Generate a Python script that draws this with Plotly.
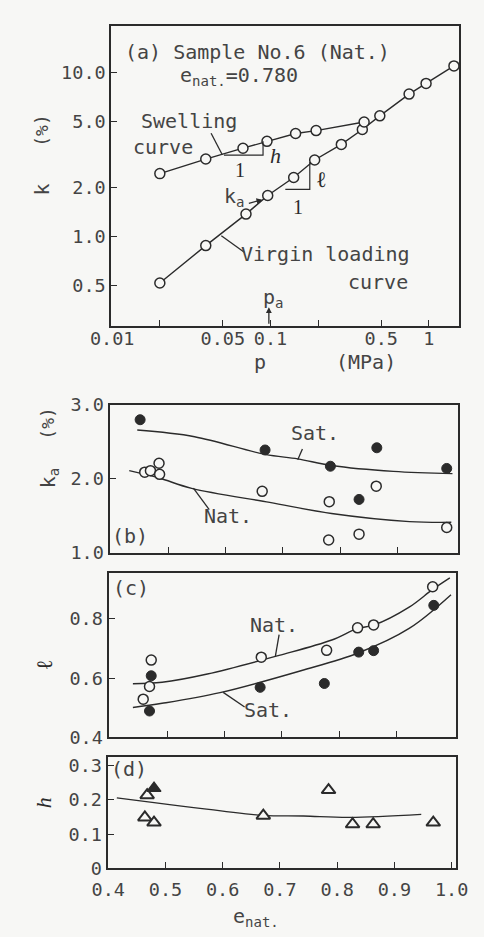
import plotly.graph_objects as go

W, H = 484, 937
BG = "#f7f7f5"
INK = "#2b2b2b"
TXT = "#444444"
MONO = "DejaVu Sans Mono"
SERIF = "Liberation Serif"

# ---------------- data ----------------
# (a) Sample No.6 (Nat.)
p_virgin = [0.020, 0.039, 0.070, 0.096, 0.14, 0.19, 0.28, 0.38, 0.49, 0.75, 0.96, 1.44]
k_virgin = [0.52, 0.88, 1.37, 1.78, 2.29, 2.93, 3.65, 4.5, 5.45, 7.4, 8.6, 11.0]
p_swell = [0.020, 0.039, 0.067, 0.095, 0.144, 0.194, 0.39]
k_swell = [2.42, 2.97, 3.46, 3.81, 4.25, 4.43, 5.0]

# (b) k_a vs e_nat
e_b_sat = [0.451, 0.669, 0.783, 0.833, 0.864, 0.986]
ka_sat = [2.80, 2.39, 2.17, 1.72, 2.42, 2.14]
e_b_nat = [0.459, 0.469, 0.484, 0.485, 0.664, 0.781, 0.780, 0.833, 0.863, 0.986]
ka_nat = [2.09, 2.11, 2.21, 2.06, 1.83, 1.69, 1.17, 1.25, 1.90, 1.34]
e_b_sat_fit = [0.446, 0.546, 0.669, 0.726, 0.785, 0.893, 0.996]
ka_sat_fit = [2.66, 2.57, 2.33, 2.27, 2.18, 2.10, 2.07]
e_b_nat_fit = [0.432, 0.484, 0.541, 0.677, 0.785, 0.921, 0.994]
ka_nat_fit = [2.11, 2.01, 1.87, 1.68, 1.53, 1.42, 1.41]

# (c) l vs e_nat
e_c_nat = [0.472, 0.469, 0.458, 0.664, 0.778, 0.832, 0.860, 0.963]
l_nat = [0.661, 0.572, 0.529, 0.671, 0.694, 0.770, 0.780, 0.909]
e_c_sat = [0.472, 0.469, 0.662, 0.774, 0.834, 0.860, 0.965]
l_sat = [0.608, 0.489, 0.569, 0.582, 0.688, 0.693, 0.846]
e_c_nat_fit = [0.440, 0.491, 0.570, 0.695, 0.787, 0.832, 0.860, 0.922, 0.963, 0.993]
l_nat_fit = [0.581, 0.586, 0.614, 0.677, 0.729, 0.768, 0.779, 0.840, 0.900, 0.939]
e_c_sat_fit = [0.440, 0.491, 0.592, 0.733, 0.833, 0.922, 0.995]
l_sat_fit = [0.501, 0.515, 0.551, 0.625, 0.685, 0.768, 0.882]

# (d) h vs e_nat
e_d_open = [0.468, 0.464, 0.480, 0.671, 0.785, 0.827, 0.863, 0.968]
h_open = [0.214, 0.149, 0.134, 0.154, 0.229, 0.129, 0.129, 0.134]
e_d_fill = [0.480]
h_fill = [0.234]
e_d_fit = [0.415, 0.597, 0.670, 0.741, 0.822, 0.947]
h_fit = [0.206, 0.168, 0.155, 0.153, 0.149, 0.158]

# tick labels
p_ticks = [0.01, 0.02, 0.05, 0.1, 0.2, 0.5, 1]
p_ticktext = ["0.01", "", "0.05", "0.1", "", "0.5", "1"]
k_ticks = [0.5, 1, 2, 5, 10]
k_ticktext = ["0.5", "1.0", "2.0", "5.0", "10.0"]
e_ticks = [0.4, 0.5, 0.6, 0.7, 0.8, 0.9, 1.0]
e_ticktext = ["0.4", "0.5", "0.6", "0.7", "0.8", "0.9", "1.0"]

# slope-triangle helpers for panel (a)
h_tri_p = [0.0508, 0.0897, 0.0897]
h_tri_k = [3.14, 3.14, 3.81]
l_tri_p = [0.124, 0.177, 0.177]
l_tri_k = [1.94, 1.94, 2.85]

# ---------------- figure ----------------
fig = go.Figure()


def open_circ(size=10, lw=1.5):
    return dict(symbol="circle", size=size, color=BG, line=dict(color=INK, width=lw))


def fill_circ(size=10):
    return dict(symbol="circle", size=size, color=INK, line=dict(color=INK, width=1))


# (a)
fig.add_trace(go.Scatter(x=p_virgin, y=k_virgin, mode="lines+markers", xaxis="x", yaxis="y",
                         line=dict(color=INK, width=1.4), marker=open_circ(10)))
fig.add_trace(go.Scatter(x=p_swell, y=k_swell, mode="lines+markers", xaxis="x", yaxis="y",
                         line=dict(color=INK, width=1.4), marker=open_circ(10)))
fig.add_trace(go.Scatter(x=h_tri_p, y=h_tri_k, mode="lines", xaxis="x", yaxis="y",
                         line=dict(color=INK, width=1.2)))
fig.add_trace(go.Scatter(x=l_tri_p, y=l_tri_k, mode="lines", xaxis="x", yaxis="y",
                         line=dict(color=INK, width=1.2)))

# (b)
fig.add_trace(go.Scatter(x=e_b_sat_fit, y=ka_sat_fit, mode="lines", xaxis="x2", yaxis="y2",
                         line=dict(color=INK, width=1.4, shape="spline")))
fig.add_trace(go.Scatter(x=e_b_nat_fit, y=ka_nat_fit, mode="lines", xaxis="x2", yaxis="y2",
                         line=dict(color=INK, width=1.4, shape="spline")))
fig.add_trace(go.Scatter(x=e_b_sat, y=ka_sat, mode="markers", xaxis="x2", yaxis="y2",
                         marker=fill_circ(10)))
fig.add_trace(go.Scatter(x=e_b_nat, y=ka_nat, mode="markers", xaxis="x2", yaxis="y2",
                         marker=open_circ(10, 1.5)))

# (c)
fig.add_trace(go.Scatter(x=e_c_nat_fit, y=l_nat_fit, mode="lines", xaxis="x3", yaxis="y3",
                         line=dict(color=INK, width=1.4, shape="spline")))
fig.add_trace(go.Scatter(x=e_c_sat_fit, y=l_sat_fit, mode="lines", xaxis="x3", yaxis="y3",
                         line=dict(color=INK, width=1.4, shape="spline")))
fig.add_trace(go.Scatter(x=e_c_nat, y=l_nat, mode="markers", xaxis="x3", yaxis="y3",
                         marker=open_circ(10, 1.5)))
fig.add_trace(go.Scatter(x=e_c_sat, y=l_sat, mode="markers", xaxis="x3", yaxis="y3",
                         marker=fill_circ(10)))

# (d)
fig.add_trace(go.Scatter(x=e_d_fit, y=h_fit, mode="lines", xaxis="x4", yaxis="y4",
                         line=dict(color=INK, width=1.4, shape="spline")))
fig.add_trace(go.Scatter(x=e_d_open, y=h_open, mode="markers", xaxis="x4", yaxis="y4",
                         marker=dict(symbol="triangle-up", size=12, color=BG,
                                     line=dict(color=INK, width=2))))
fig.add_trace(go.Scatter(x=e_d_fill, y=h_fill, mode="markers", xaxis="x4", yaxis="y4",
                         marker=dict(symbol="triangle-up", size=12, color=INK,
                                     line=dict(color=INK, width=1.5))))


def X(px):
    return px / W


def Y(py):
    return 1 - py / H


tickfont = dict(family=MONO, size=18.5, color=TXT)


def axis(dom, **kw):
    d = dict(domain=dom, showline=True, mirror=True, linecolor=INK, linewidth=2,
             showgrid=False, zeroline=False, ticks="inside", ticklen=6, tickwidth=1.3,
             tickcolor=INK, tickfont=tickfont, fixedrange=True)
    d.update(kw)
    return d


fig.update_layout(
    width=W, height=H, margin=dict(l=0, r=0, t=0, b=0),
    paper_bgcolor=BG, plot_bgcolor=BG, showlegend=False,
    xaxis=axis([X(97), X(470)], type="log", range=[-2.005, 0.19], anchor="y",
               tickvals=p_ticks, ticktext=p_ticktext, ticklabelstandoff=-5),
    yaxis=axis([Y(322), Y(15)], type="log", range=[-0.545, 1.287], anchor="x",
               tickvals=k_ticks, ticktext=k_ticktext),
    xaxis2=axis([X(95), X(469)], range=[0.3976, 1.0057], anchor="y2",
                tickvals=e_ticks[1:-1], showticklabels=False),
    yaxis2=axis([Y(554), Y(403)], range=[1, 3], anchor="x2",
                tickvals=[1, 2, 3], ticktext=["1.0", "2.0", "3.0"]),
    xaxis3=axis([X(94), X(467)], range=[0.3976, 1.004], anchor="y3",
                tickvals=e_ticks[1:-1], showticklabels=False),
    yaxis3=axis([Y(743), Y(575)], range=[0.4, 0.955], anchor="x3",
                tickvals=[0.4, 0.6, 0.8], ticktext=["0.4", "0.6", "0.8"]),
    xaxis4=axis([X(93), X(467)], range=[0.399, 1.008], anchor="y4",
                tickvals=e_ticks, ticktext=e_ticktext, ticklabelstandoff=3),
    yaxis4=axis([Y(877), Y(763)], range=[0, 0.326], anchor="x4",
                tickvals=[0, 0.1, 0.2, 0.3], ticktext=["0", "0.1", "0.2", "0.3"]),
)

ann = []


def txt(x, y, s, size=20, font=MONO, angle=0, color=TXT, xa="center"):
    ann.append(dict(x=X(x), y=Y(y), xref="paper", yref="paper", text=s, showarrow=False,
                    font=dict(family=font, size=size, color=color), textangle=angle,
                    xanchor=xa, yanchor="middle"))


def arrow(x_tip, y_tip, x_tail, y_tail, head=2):
    ann.append(dict(x=X(x_tip), y=Y(y_tip), xref="paper", yref="paper", text="",
                    showarrow=True, arrowhead=head, arrowsize=0.9, arrowwidth=1.3,
                    arrowcolor=INK, ax=x_tail - x_tip, ay=y_tail - y_tip))


# panel (a) texts
txt(254, 42, "(a) Sample No.6 (Nat.)")
txt(234, 66, "e<sub>nat.</sub>=0.780")
txt(180, 113, "Swelling")
txt(152, 139, "curve")
txt(235, 163, "1", size=20, font=SERIF, color=INK)
txt(273, 148, "<i>h</i>", size=22, font=SERIF, color=INK)
txt(322, 172, "ℓ", size=22, font=SERIF, color=INK)
txt(297, 200, "1", size=20, font=SERIF, color=INK)
txt(229, 190, "k<sub>a</sub>")
arrow(259, 193, 244, 197)
txt(270, 294, "p<sub>a</sub>")
arrow(266, 303, 266, 321)
txt(327, 249, "Virgin loading")
txt(383, 277, "curve")
txt(257, 359, "p")
txt(370, 359, "(MPa)")
txt(22, 183, "k", angle=-90)
txt(22, 122, "(%)", size=18, angle=-90)

# panel (b)
txt(316, 432, "Sat.")
txt(222, 517, "Nat.")
txt(117, 537, "(b)")
txt(30, 478, "k<sub>a</sub>", angle=-90)
txt(28, 422, "(%)", size=18, angle=-90)

# panel (c)
txt(118, 590, "(c)")
txt(272, 628, "Nat.")
txt(265, 715, "Sat.")
txt(25, 669, "ℓ", size=22, font=SERIF, color=INK, angle=-90)

# panel (d)
txt(116, 775, "(d)")
txt(24, 810, "<i>h</i>", size=22, font=SERIF, color=INK, angle=-90)
txt(252, 927, "e<sub>nat.</sub>")

fig.update_layout(annotations=ann)

# leader lines
leaders = [
    ((204, 125), (216, 147)),   # swelling curve
    ((215, 230), (240, 247)),   # virgin loading curve
    ((302, 448), (297, 459)),   # (b) Sat.
    ((185, 488), (202, 510)),   # (b) Nat.
    ((277, 638), (273, 660)),   # (c) Nat.
    ((240, 712), (217, 697)),   # (c) Sat.
]
shapes = []
for (x0, y0), (x1, y1) in leaders:
    shapes.append(dict(type="line", xref="paper", yref="paper",
                       x0=X(x0), y0=Y(y0), x1=X(x1), y1=Y(y1),
                       line=dict(color=INK, width=1.3)))
fig.update_layout(shapes=shapes)

fig.write_html("out.html")
